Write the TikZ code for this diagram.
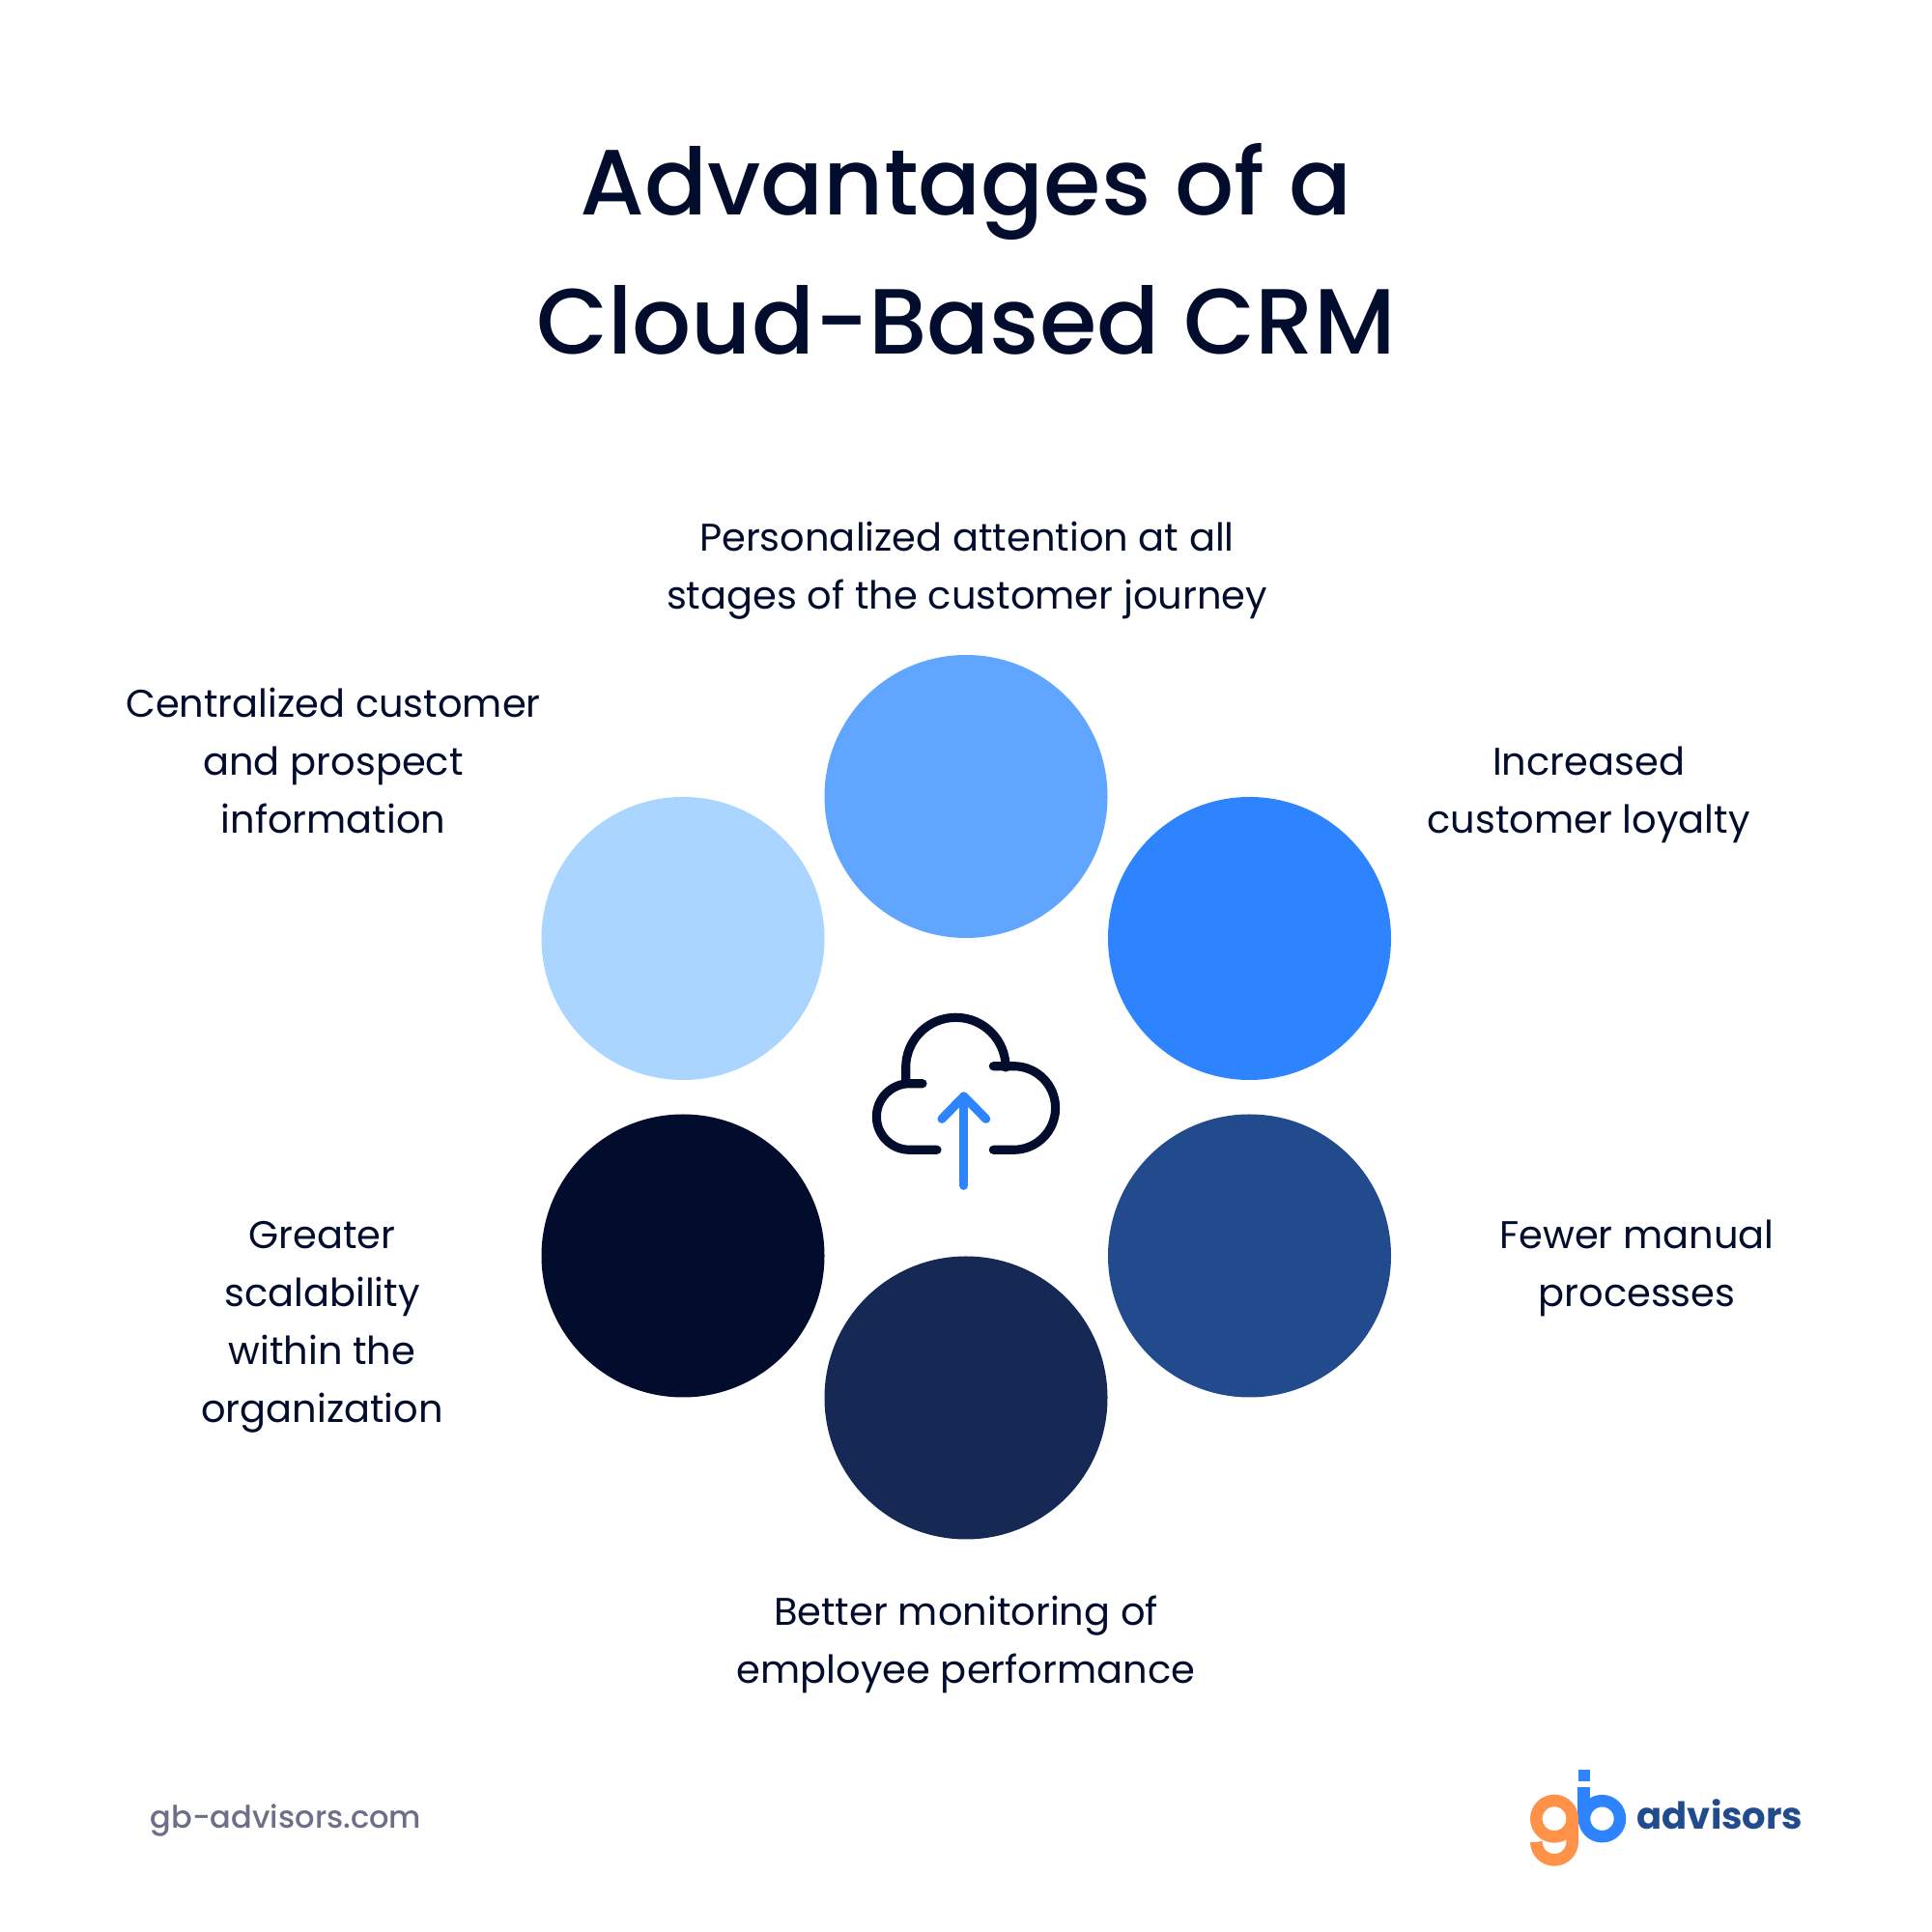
\documentclass[tikz,border=0pt]{standalone}
\usepackage{fontspec}
\setmainfont{Poppins}
\newfontfamily\titlefont{Poppins Medium}
\usepackage{xcolor}
\definecolor{navy}{HTML}{020C2C}
\definecolor{skyblue}{HTML}{A9D5FF}
\definecolor{lightblue}{HTML}{60A5FF}
\definecolor{brightblue}{HTML}{2E83FF}
\definecolor{midblue}{HTML}{214B8D}
\definecolor{deepblue}{HTML}{162955}
\definecolor{logoorange}{HTML}{FF9248}
\definecolor{footgrey}{HTML}{6B7088}
\tikzset{
  petal/.style={circle, minimum size=2.93cm, inner sep=0pt},
  caption/.style={align=center, inner sep=0pt, text=navy, font=\fontsize{11.37}{17.07}\selectfont},
  cloudline/.style={draw=navy, line width=2.6pt, line cap=round, line join=round},
  logoline/.style={line width=0.125cm}
}
\begin{document}
\begin{tikzpicture}
\useasboundingbox (0cm,0cm) rectangle (20cm,20cm);
\fill [white] (0cm,0cm) rectangle (20cm,20cm);

\node (titleA) [align=center, inner sep=0pt, text=navy, font=\titlefont\fontsize{27.3}{41}\selectfont] at (10cm,17.42cm) {Advantages of a\\Cloud-Based CRM};

\node (petalTop) [petal, fill=lightblue] at (10cm,11.755cm) {};
\node (petalRightUp) [petal, fill=brightblue] at (12.935cm,10.285cm) {};
\node (petalRightDown) [petal, fill=midblue] at (12.935cm,7cm) {};
\node (petalBottom) [petal, fill=deepblue] at (10cm,5.53cm) {};
\node (petalLeftDown) [petal, fill=navy] at (7.07cm,7cm) {};
\node (petalLeftUp) [petal, fill=skyblue] at (7.07cm,10.285cm) {};

\node (capTop) [caption] at (10.01cm,14.09cm) {Personalized attention at all\\stages of the customer journey};
\node (capRightUp) [caption] at (16.445cm,11.77cm) {Increased\\customer loyalty};
\node (capRightDown) [caption] at (16.945cm,6.87cm) {Fewer manual\\processes};
\node (capBottom) [caption] at (10cm,2.975cm) {Better monitoring of\\employee performance};
\node (capLeftDown) [caption] at (3.335cm,6.265cm) {Greater\\scalability\\within the\\organization};
\node (capLeftUp) [caption] at (3.45cm,12.125cm) {Centralized customer\\and prospect\\information};

% cloud
\draw [cloudline] (10.283cm,8.097cm) -- (10.493cm,8.097cm) arc (-90:90:0.433cm) -- (10.283cm,8.963cm);
\draw [cloudline] (9.377cm,8.783cm) -- (9.377cm,8.95cm) arc (180:0:0.517cm);
\draw [cloudline] (9.55cm,8.783cm) -- (9.417cm,8.783cm) arc (90:270:0.343cm) -- (9.7cm,8.097cm);
\draw [draw=brightblue, line width=2.6pt, line cap=round, line join=round] (9.977cm,7.727cm) -- (9.977cm,8.65cm);
\draw [draw=brightblue, line width=2.6pt, line cap=round, line join=round] (9.75cm,8.417cm) -- (9.977cm,8.65cm) -- (10.207cm,8.417cm);

% logo
\draw [logoline, draw=brightblue] (16.585cm,1.173cm) circle (0.185cm);
\draw [logoline, draw=brightblue] (16.395cm,1.173cm) -- (16.395cm,1.5cm);
\fill [brightblue] (16.335cm,1.56cm) rectangle (16.46cm,1.68cm);
\draw [logoline, draw=logoorange] (16.09cm,1.173cm) circle (0.187cm);
\draw [logoline, draw=logoorange] (16.277cm,1.173cm) -- (16.277cm,0.933cm) arc (0:-180:0.187cm);

\node (logoText) [inner sep=0pt, text=midblue, font=\fontsize{10.95}{13}\selectfont\bfseries] at (17.805cm,1.217cm) {advisors};
\node (footUrl) [inner sep=0pt, text=footgrey, font=\titlefont\fontsize{9.13}{12}\selectfont] at (2.96cm,1.15cm) {gb-advisors.com};
\end{tikzpicture}
\end{document}
